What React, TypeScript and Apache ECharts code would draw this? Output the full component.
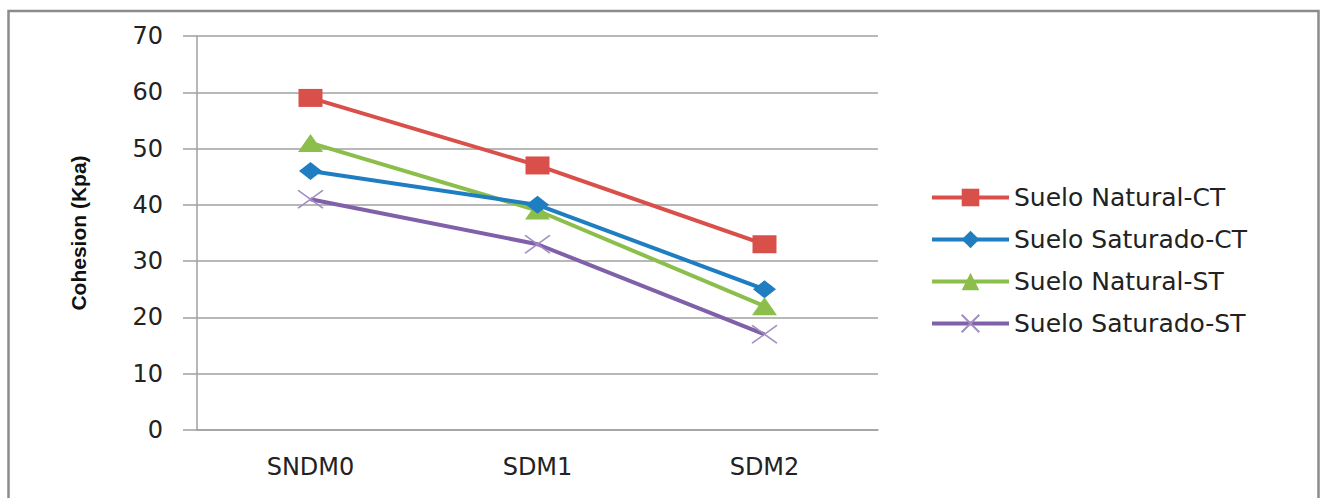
import React, { useEffect, useRef } from "react";
import * as echarts from "echarts";

const categories = ["SNDM0", "SDM1", "SDM2"];
const seriesNames = [
  "Suelo Natural-CT",
  "Suelo Saturado-CT",
  "Suelo Natural-ST",
  "Suelo Saturado-ST",
];
const naturalCT = [59, 47, 33];
const saturadoCT = [46, 40, 25];
const naturalST = [51, 39, 22];
const saturadoST = [41, 33, 17];
const yTicks = { min: 0, max: 70, interval: 10 };

const colors = ["#D9504A", "#1F7DC1", "#8CBE4B", "#8060A8"];
const crossPath = "path://M0,0L10,10M10,0L0,10";

export default function App() {
  const ref = useRef<HTMLDivElement>(null);
  useEffect(() => {
    if (!ref.current) return;
    const chart = echarts.init(ref.current, null, { renderer: "svg" });
    const font = "DejaVu Sans";
    const mk = (i: number, data: number[], symbol: string, size: any, extra: any = {}) => ({
      name: seriesNames[i],
      type: "line",
      data,
      symbol,
      symbolSize: size,
      showSymbol: true,
      lineStyle: { color: colors[i], width: 4 },
      itemStyle: { color: colors[i], ...extra },
      z: 10 - i,
    });
    chart.setOption({
      animation: false,
      backgroundColor: "#ffffff",
      graphic: [
        {
          type: "rect",
          shape: { x: 8.5, y: 11, width: 1310, height: 500 },
          style: { fill: "none", stroke: "#8c8c8c", lineWidth: 2.5 },
          silent: true,
        },
      ],
      grid: { left: 197, right: 442, top: 36, bottom: 68, containLabel: false },
      legend: {
        orient: "vertical",
        left: 925,
        top: 180,
        itemWidth: 77,
        itemHeight: 22,
        itemGap: 17,
        lineStyle: { width: 4 },
        textStyle: { fontFamily: font, fontSize: 25, color: "#222", lineHeight: 22 },
        data: seriesNames,
      },
      xAxis: {
        type: "category",
        data: categories,
        boundaryGap: true,
        axisLine: { lineStyle: { color: "#a0a0a0", width: 1.5 } },
        axisTick: { show: false },
        axisLabel: { fontFamily: font, fontSize: 24, color: "#222", margin: 25 },
      },
      yAxis: {
        type: "value",
        min: yTicks.min,
        max: yTicks.max,
        interval: yTicks.interval,
        name: "Cohesion (Kpa)",
        nameLocation: "middle",
        nameGap: 108,
        nameTextStyle: {
          fontFamily: "Liberation Sans",
          fontSize: 21,
          fontWeight: "bold",
          color: "#111",
        },
        axisLine: { show: true, lineStyle: { color: "#a0a0a0", width: 1.5 } },
        axisTick: { show: true, inside: false, length: 14, lineStyle: { color: "#a0a0a0", width: 1.5 } },
        splitLine: { show: true, lineStyle: { color: "#a0a0a0", width: 1.5 } },
        axisLabel: { fontFamily: font, fontSize: 24, color: "#222", margin: 34 },
      },
      series: [
        mk(0, naturalCT, "rect", [24, 18]),
        mk(1, saturadoCT, "diamond", [23, 18]),
        mk(2, naturalST, "triangle", [25, 18]),
        mk(3, saturadoST, crossPath, [25, 18], {
          color: "none",
          borderColor: "#A28CC0",
          borderWidth: 1.5,
        }),
      ],
    });
    return () => chart.dispose();
  }, []);
  return (
    <div
      ref={ref}
      style={{ position: "fixed", left: 0, top: 0, width: 1320, height: 498 }}
    />
  );
}
